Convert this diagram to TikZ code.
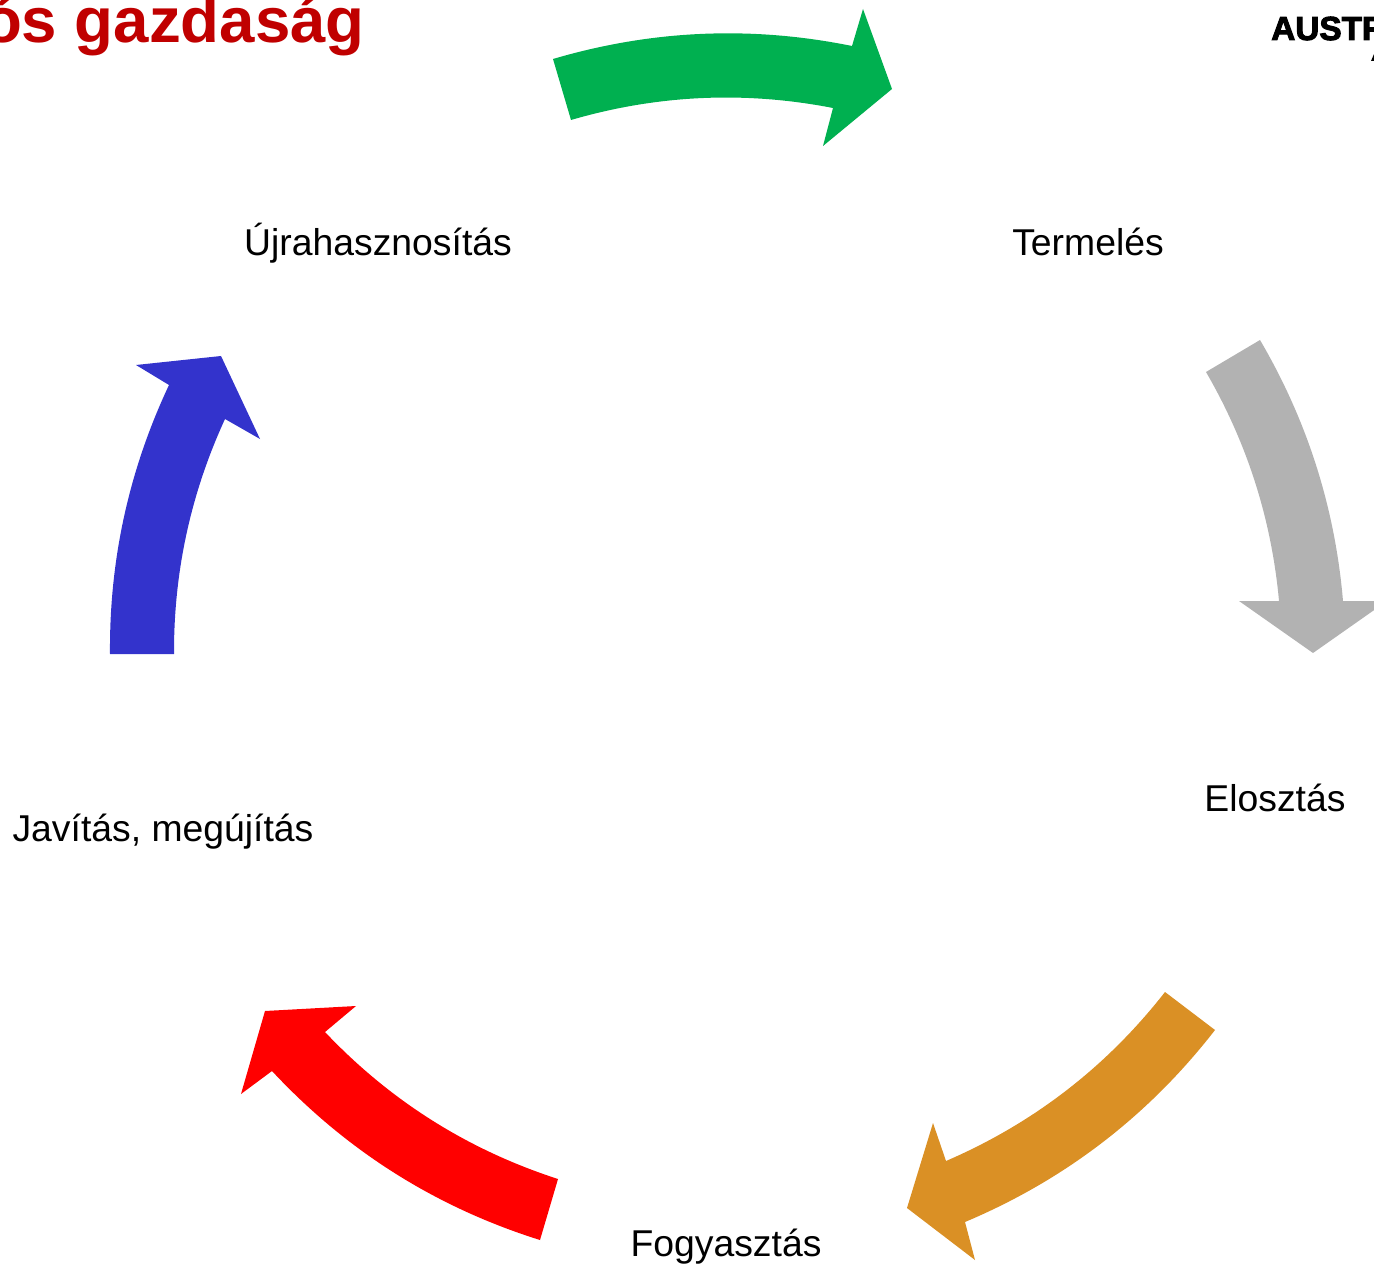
\documentclass[tikz,border=0pt]{standalone}
\usepackage{fontspec}
\setmainfont{Liberation Sans}
\newfontfamily\logofont[BoldFeatures={FakeBold=3}]{Liberation Sans}
\tikzset{
  lbl/.style={anchor=base,inner sep=0pt,font=\fontsize{28pt}{34pt}\selectfont},
  ttl/.style={anchor=base east,inner sep=0pt,text=titlered,font=\fontsize{47.7pt}{56pt}\selectfont\bfseries},
  logo/.style={anchor=base west,inner sep=0pt,font=\logofont\fontsize{25pt}{30pt}\selectfont\bfseries},
}
\definecolor{titlered}{HTML}{C00000}
\definecolor{agreen}{HTML}{00B050}
\definecolor{agray}{HTML}{B2B2B2}
\definecolor{aorange}{HTML}{DA9025}
\definecolor{ablue}{HTML}{3333CC}
\begin{document}
\begin{tikzpicture}[x=0.75pt,y=-0.75pt]
\useasboundingbox (0,0) rectangle (1374,1269);
\clip (0,0) rectangle (1374,1269);
% arrows
\fill[agreen] (553,59) .. controls (651.6,29.9) and (751.3,25.5) .. (852,46) -- (863,9) -- (892,89) -- (823,146) -- (833,108) .. controls (744.7,90.8) and (657.3,94.8) .. (571,120) -- cycle;
\fill[agray] (1260,340) .. controls (1307.3,420.7) and (1335,507.7) .. (1343,601) -- (1387,601) -- (1313,653) -- (1239,601) -- (1279,601) .. controls (1271.5,519.3) and (1247.2,443) .. (1206,372) -- cycle;
\fill[aorange] (1215,1030) .. controls (1148.4,1115.8) and (1065.1,1179.8) .. (965,1222) -- (975,1260) -- (907,1208) -- (933,1123) -- (946,1161) .. controls (1033.4,1123.3) and (1106.4,1067) .. (1165,992) -- cycle;
\fill[red] (540,1240) .. controls (435.8,1207.3) and (346.5,1150.9) .. (272,1071) -- (241,1094) -- (265,1011) -- (356,1006) -- (325,1032) .. controls (390.1,1100.8) and (467.8,1149.8) .. (558,1179) -- cycle;
\fill[ablue] (110,654) .. controls (109.2,559.9) and (128.9,470.2) .. (169,385) -- (136,365) -- (221,356) -- (260,439) -- (225,419) .. controls (190.7,493.6) and (173.7,571.9) .. (174,654) -- cycle;
% texts
\node[ttl] (title) at (365,43) {ós gazdaság};
\node[logo,text=black] (logotext) at (1271,40) {AUSTR};
\fill (1371,61) -- (1374,54) -- (1374,61) -- cycle;
\node[lbl] (term) at (1088,256) {Termelés};
\node[lbl] (ujra) at (378,256) {Újrahasznosítás};
\node[lbl] (elo) at (1275,811) {Elosztás};
\node[lbl] (fogy) at (726,1256) {Fogyasztás};
\node[lbl] (jav) at (163,841) {Javítás, megújítás};
\end{tikzpicture}
\end{document}
